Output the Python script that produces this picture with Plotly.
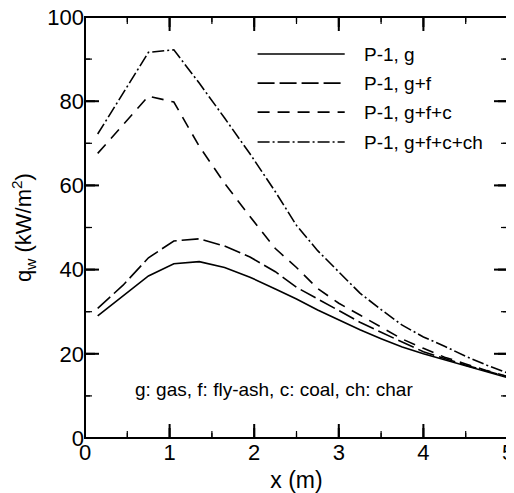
import plotly.graph_objects as go

# ---- data ----
x_vals = [0.15, 0.45, 0.75, 1.05, 1.35, 1.65, 1.95, 2.25, 2.5, 2.75, 3.0,
          3.25, 3.5, 3.75, 4.0, 4.25, 4.5, 4.75, 5.0]
q_g = [29.0, 33.7, 38.5, 41.4, 41.9, 40.5, 38.2, 35.4, 33.0, 30.4, 28.0,
       25.7, 23.6, 21.6, 20.0, 18.6, 17.2, 15.7, 14.3]
q_gf = [30.8, 36.3, 42.8, 46.8, 47.3, 45.6, 43.0, 39.5, 35.8, 33.0, 30.2,
        27.5, 25.1, 22.8, 20.5, 18.9, 17.3, 15.9, 14.5]
q_gfc = [67.6, 74.3, 81.2, 79.8, 69.3, 60.5, 52.6, 45.0, 40.5, 35.5, 32.0,
         29.2, 26.3, 23.5, 21.3, 19.2, 17.6, 16.0, 14.6]
q_gfcch = [72.2, 82.0, 91.6, 92.2, 84.3, 76.0, 67.5, 58.5, 50.5, 44.5, 39.5,
           34.4, 30.5, 26.8, 24.0, 21.8, 19.4, 17.3, 15.4]
series_names = ["P-1, g", "P-1, g+f", "P-1, g+f+c", "P-1, g+f+c+ch"]
x_ticks = [0, 1, 2, 3, 4, 5]
y_ticks = [0, 20, 40, 60, 80, 100]
x_minor = [0.5, 1.5, 2.5, 3.5, 4.5]
y_minor = [10, 30, 50, 70, 90]
note_text = "g: gas, f: fly-ash, c: coal, ch: char"

# ---- styles ----
dashes = ["solid", "17px,5px", "12px,8px", "12px,3px,2px,3px"]
FONT = "Liberation Sans, Arial, Helvetica, sans-serif"
X_RANGE, Y_RANGE = [0, 5], [0, 100]
PLOT_W, PLOT_H = 423, 421          # plot-area size in px

fig = go.Figure()
for name, ys, d in zip(series_names, [q_g, q_gf, q_gfc, q_gfcch], dashes):
    fig.add_trace(go.Scatter(x=x_vals, y=ys, mode="lines", name=name,
                             line=dict(color="black", width=1.6, dash=d),
                             showlegend=False))


# inward tick marks: line-shaped markers centred on the frame, half clipped
def add_tick_markers(xt, yt, ln_px, w_px):
    fig.add_trace(go.Scatter(
        x=list(xt) * 2, y=[Y_RANGE[0]] * len(xt) + [Y_RANGE[1]] * len(xt),
        mode="markers", showlegend=False, hoverinfo="skip", cliponaxis=True,
        marker=dict(symbol="line-ns", size=2 * ln_px, color="black",
                    line=dict(color="black", width=w_px))))
    fig.add_trace(go.Scatter(
        x=[X_RANGE[0]] * len(yt) + [X_RANGE[1]] * len(yt), y=list(yt) * 2,
        mode="markers", showlegend=False, hoverinfo="skip", cliponaxis=True,
        marker=dict(symbol="line-ew", size=2 * ln_px, color="black",
                    line=dict(color="black", width=w_px))))


# same ticks also as thin filled rectangles (backup rendering path)
def add_tick_rects(xt, yt, ln_px, w_px):
    hw_x = (X_RANGE[1] - X_RANGE[0]) * (w_px / 2) / PLOT_W
    hw_y = (Y_RANGE[1] - Y_RANGE[0]) * (w_px / 2) / PLOT_H
    lx, ly = ln_px / PLOT_W, ln_px / PLOT_H
    for v in xt:
        for y0, y1 in [(0, ly), (1 - ly, 1)]:
            fig.add_shape(type="rect", xref="x", yref="paper",
                          x0=v - hw_x, x1=v + hw_x, y0=y0, y1=y1,
                          fillcolor="black", line=dict(width=0), layer="above")
    for v in yt:
        for x0, x1 in [(0, lx), (1 - lx, 1)]:
            fig.add_shape(type="rect", xref="paper", yref="y",
                          x0=x0, x1=x1, y0=v - hw_y, y1=v + hw_y,
                          fillcolor="black", line=dict(width=0), layer="above")


add_tick_markers(x_ticks, y_ticks, 10, 2)
add_tick_markers(x_minor, y_minor, 5, 1.2)
add_tick_rects(x_ticks, y_ticks, 10, 2)
add_tick_rects(x_minor, y_minor, 5, 1.2)

# manual legend (line samples + labels)
leg_x0, leg_x1, leg_tx = 2.04, 3.07, 3.27
leg_y = [91.2, 84.3, 77.4, 70.3]
for name, d, yy in zip(series_names, dashes, leg_y):
    fig.add_shape(type="line", xref="x", yref="y", x0=leg_x0, x1=leg_x1,
                  y0=yy, y1=yy, line=dict(color="black", width=1.6, dash=d))
    fig.add_annotation(x=leg_tx, y=yy, xref="x", yref="y", text=name,
                       showarrow=False, xanchor="left", yanchor="middle",
                       font=dict(size=19, color="black", family=FONT))

fig.add_annotation(x=0.57, y=11.5, xref="x", yref="y", text=note_text,
                   showarrow=False, xanchor="left", yanchor="middle",
                   font=dict(size=19, color="black", family=FONT))

# frame
fig.add_shape(type="rect", xref="paper", yref="paper", x0=0, x1=1, y0=0, y1=1,
              line=dict(color="black", width=2), layer="above")

axis_common = dict(showgrid=False, zeroline=False, showline=False,
                   ticks="", automargin=False, ticklabeloverflow="allow",
                   tickfont=dict(size=22, color="black", family=FONT))

fig.update_xaxes(range=X_RANGE, tickmode="array", tickvals=x_ticks,
                 ticktext=[str(v) for v in x_ticks], ticklabelstandoff=-1,
                 title=dict(text="x (m)", standoff=11,
                            font=dict(size=23, color="black", family=FONT)),
                 **axis_common)
fig.update_yaxes(range=Y_RANGE, tickmode="array", tickvals=y_ticks,
                 ticktext=[str(v) for v in y_ticks],
                 title=dict(text="q<sub>w</sub> (kW/m<sup>2</sup>)", standoff=13,
                            font=dict(size=22, color="black", family=FONT)),
                 **axis_common)

# page body has an 8px margin: figure is shifted by 8px, so shrink it
fig.update_layout(width=506, height=485,
                  margin=dict(l=77, r=6, t=9, b=55, pad=0),
                  plot_bgcolor="white", paper_bgcolor="white",
                  font=dict(family=FONT, color="black"))

fig.write_html("out.html")
